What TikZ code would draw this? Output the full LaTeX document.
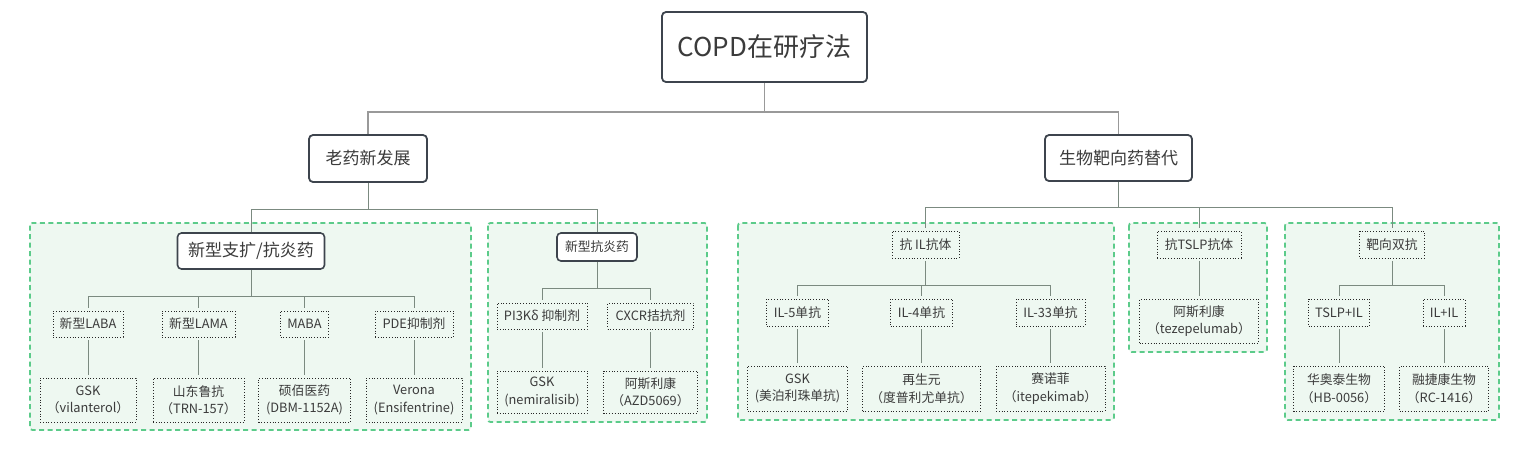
\documentclass[tikz,border=0pt]{standalone}
\usepackage{fontspec}
\setmainfont{Noto Sans CJK SC}
\definecolor{txt}{HTML}{3B3B3B}
\definecolor{bdr}{HTML}{3D444D}
\definecolor{grpline}{HTML}{5CCB8A}
\definecolor{grpfill}{HTML}{EEF8F1}
\definecolor{topline}{HTML}{999999}
\definecolor{subline}{HTML}{7B8A80}
\tikzset{
  rootbox/.style={draw=bdr, line width=1.8pt, rounded corners=4pt, fill=white, inner sep=0pt, text=txt, font=\fontsize{26}{30}\selectfont},
  mainbox/.style={draw=bdr, line width=1.8pt, rounded corners=4pt, fill=white, inner sep=0pt, text=txt, font=\fontsize{17}{21}\selectfont},
  headbox/.style={draw=bdr, line width=1.6pt, rounded corners=4pt, fill=white, inner sep=0pt, text=txt},
  dotbox/.style={draw=black!85, dotted, line width=0.8pt, inner sep=0pt, outer sep=3pt, text=txt, align=center, font=\fontsize{12.8}{17.5}\selectfont},
  grpbox/.style={draw=grpline, fill=grpfill, line width=1.8pt, dash pattern=on 5pt off 3.5pt, rounded corners=2.5pt},
  topconn/.style={draw=topline, line width=1.6pt},
  subconn/.style={draw=subline, line width=1pt},
}
\begin{document}
\begin{tikzpicture}[x=1pt,y=-1pt]
\useasboundingbox (0,0) rectangle (1533,451);
% groups
\draw[grpbox] (30,223) rectangle (471,430);
\draw[grpbox] (488,223) rectangle (707,422);
\draw[grpbox] (738,223) rectangle (1114,420);
\draw[grpbox] (1129,223) rectangle (1267,352);
\draw[grpbox] (1285,223) rectangle (1499,420);
% top levels
\node[rootbox, minimum width=205pt, minimum height=70pt] (root) at (764.5,47) {COPD在研疗法};
\node[mainbox, minimum width=118pt, minimum height=47pt] (old) at (368,158.5) {老药新发展};
\node[mainbox, minimum width=147pt, minimum height=46pt] (bio) at (1118.5,158) {生物靶向药替代};
% group 1
\node[headbox, font=\fontsize{17}{21}\selectfont, minimum width=147pt, minimum height=36pt] (g1h) at (251,251) {新型支扩/抗炎药};
\node[dotbox, minimum width=70pt, minimum height=26pt] (n1) at (88,324) {新型LABA};
\node[dotbox, minimum width=73pt, minimum height=26pt] (n2) at (198.5,324) {新型LAMA};
\node[dotbox, minimum width=48pt, minimum height=26pt] (n3) at (304.5,324) {MABA};
\node[dotbox, minimum width=78pt, minimum height=26pt] (n4) at (414,324) {PDE抑制剂};
\node[dotbox, minimum width=96pt, minimum height=44pt] (l1) at (88,400) {GSK\\（vilanterol）};
\node[dotbox, minimum width=91pt, minimum height=44pt] (l2) at (198.5,400) {山东鲁抗\\（TRN-157）};
\node[dotbox, minimum width=92pt, minimum height=44pt] (l3) at (304.5,400) {硕佰医药\\(DBM-1152A)};
\node[dotbox, minimum width=96pt, minimum height=44pt] (l4) at (414,400) {Verona\\(Ensifentrine)};
% group 2
\node[headbox, font=\fontsize{12.8}{16}\selectfont, minimum width=80pt, minimum height=28pt] (g2h) at (597,247) {新型抗炎药};
\node[dotbox, minimum width=90pt, minimum height=26pt] (m1) at (542,316) {PI3Kδ 抑制剂};
\node[dotbox, minimum width=86pt, minimum height=26pt] (m2) at (650.5,316) {CXCR拮抗剂};
\node[dotbox, minimum width=90pt, minimum height=42pt] (k1) at (542,392) {GSK\\(nemiralisib)};
\node[dotbox, minimum width=94pt, minimum height=42pt] (k2) at (650.5,392) {阿斯利康\\（AZD5069）};
% group 3
\node[dotbox, minimum width=67pt, minimum height=27pt] (ilh) at (925.5,244.5) {抗 IL抗体};
\node[dotbox, minimum width=62pt, minimum height=27pt] (p1) at (797.5,312.5) {IL-5单抗};
\node[dotbox, minimum width=62pt, minimum height=27pt] (p2) at (921.5,312.5) {IL-4单抗};
\node[dotbox, minimum width=69pt, minimum height=27pt] (p3) at (1050.5,312.5) {IL-33单抗};
\node[dotbox, minimum width=100pt, minimum height=45pt] (q1) at (797.5,388.5) {GSK\\(美泊利珠单抗)};
\node[dotbox, minimum width=118pt, minimum height=45pt] (q2) at (921.5,388.5) {再生元\\（度普利尤单抗）};
\node[dotbox, minimum width=109pt, minimum height=45pt] (q3) at (1050.5,388.5) {赛诺菲\\（itepekimab）};
% group 4
\node[dotbox, minimum width=84pt, minimum height=27pt] (tslp) at (1199,244.5) {抗TSLP抗体};
\node[dotbox, minimum width=119pt, minimum height=44pt] (ts1) at (1199,321) {阿斯利康\\（tezepelumab）};
% group 5
\node[dotbox, minimum width=65pt, minimum height=27pt] (bis) at (1392,244.5) {靶向双抗};
\node[dotbox, minimum width=61pt, minimum height=27pt] (r1) at (1339,312.5) {TSLP+IL};
\node[dotbox, minimum width=42pt, minimum height=27pt] (r2) at (1444,312.5) {IL+IL};
\node[dotbox, minimum width=91pt, minimum height=45pt] (s1) at (1339,388.5) {华奥泰生物\\（HB-0056）};
\node[dotbox, minimum width=89pt, minimum height=45pt] (s2) at (1444,388.5) {融捷康生物\\（RC-1416）};
% bus coordinates
\coordinate (b0) at (764.5,112);
\coordinate (b1) at (368,209);
\coordinate (b2) at (1118.5,207);
\coordinate (c1) at (251,296);
\coordinate (c2) at (597,288);
\coordinate (c3) at (925.5,285);
\coordinate (c5) at (1392,285);
% connectors
\draw[topconn] (root.south) -- (b0);
\draw[topconn] (b0) -| (old.north);
\draw[topconn] (b0) -| (bio.north);
\draw[subconn] (old.south) -- (b1);
\draw[subconn] (b1) -| (g1h.north);
\draw[subconn] (b1) -| (g2h.north);
\draw[subconn] (bio.south) -- (b2);
\draw[subconn] (b2) -| (ilh.north);
\draw[subconn] (b2) -| (tslp.north);
\draw[subconn] (b2) -| (bis.north);
\draw[subconn] (g1h.south) -- (c1);
\foreach \n in {n1,n2,n3,n4} \draw[subconn] (c1) -| (\n.north);
\draw[subconn] (n1) -- (l1); \draw[subconn] (n2) -- (l2);
\draw[subconn] (n3) -- (l3); \draw[subconn] (n4) -- (l4);
\draw[subconn] (g2h.south) -- (c2);
\foreach \n in {m1,m2} \draw[subconn] (c2) -| (\n.north);
\draw[subconn] (m1) -- (k1); \draw[subconn] (m2) -- (k2);
\draw[subconn] (ilh.south) -- (c3);
\foreach \n in {p1,p2,p3} \draw[subconn] (c3) -| (\n.north);
\draw[subconn] (p1) -- (q1); \draw[subconn] (p2) -- (q2); \draw[subconn] (p3) -- (q3);
\draw[subconn] (tslp) -- (ts1);
\draw[subconn] (bis.south) -- (c5);
\foreach \n in {r1,r2} \draw[subconn] (c5) -| (\n.north);
\draw[subconn] (r1) -- (s1); \draw[subconn] (r2) -- (s2);
\end{tikzpicture}
\end{document}
